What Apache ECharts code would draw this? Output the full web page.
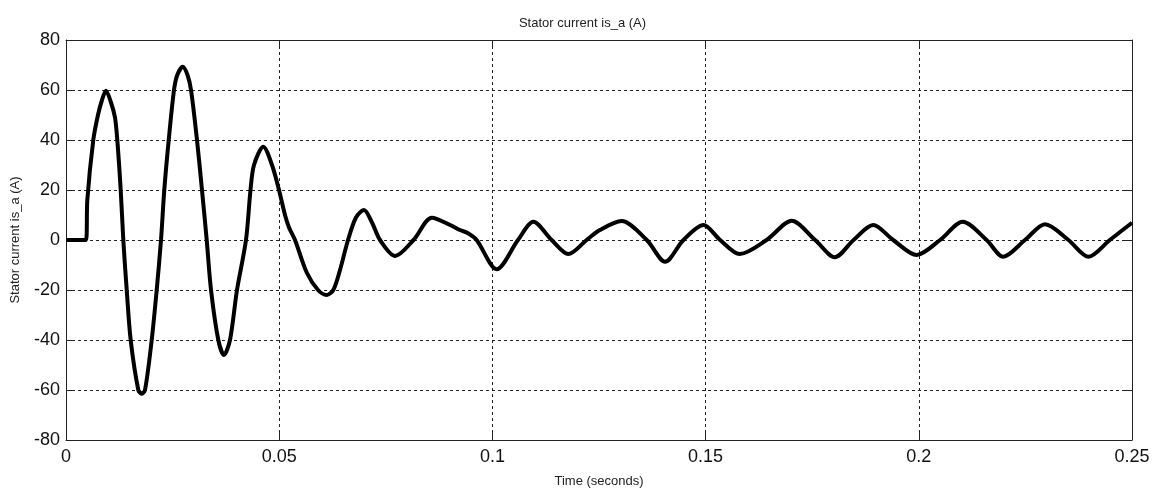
<!DOCTYPE html>
<html>
<head>
<meta charset="utf-8">
<script src="https://cdn.jsdelivr.net/npm/echarts@6/dist/echarts.min.js"></script>
<style>
html,body{margin:0;padding:0;background:#fff;}
#chart{width:1165px;height:493px;}
</style>
</head>
<body>
<div id="chart"></div>
<script>
var titleText = 'Stator current is_a (A)';
var xName = 'Time (seconds)';
var yName = 'Stator current is_a (A)';
var xTicks = [0, 0.05, 0.1, 0.15, 0.2, 0.25];
var yTicks = [-80, -60, -40, -20, 0, 20, 40, 60, 80];
var times = [0, 0.00469, 0.00500, 0.00640, 0.00750, 0.00844, 0.00938, 0.01055, 0.01149, 0.01203, 0.01283, 0.01344, 0.01424, 0.01517, 0.01696, 0.01775, 0.01853, 0.02010, 0.02127, 0.02228, 0.02305, 0.02409, 0.02533, 0.02610, 0.02737, 0.02850, 0.02932, 0.03072, 0.03189, 0.03300, 0.03401, 0.03572, 0.03705, 0.03846, 0.04010, 0.04221, 0.04327, 0.04409, 0.04627, 0.04831, 0.04995, 0.05136, 0.05230, 0.05371, 0.05645, 0.05910, 0.06114, 0.06269, 0.06426, 0.06614, 0.06801, 0.06989, 0.07176, 0.07364, 0.0772, 0.0815, 0.0858, 0.0901, 0.0924, 0.0943, 0.0963, 0.1010, 0.1060, 0.1096, 0.1139, 0.1178, 0.1221, 0.1252, 0.1303, 0.1362, 0.1405, 0.1448, 0.1495, 0.1534, 0.1580, 0.1643, 0.1702, 0.1757, 0.1803, 0.1847, 0.1893, 0.1940, 0.1995, 0.2050, 0.2103, 0.2159, 0.2198, 0.2249, 0.2296, 0.2351, 0.2398, 0.2448, 0.2500];
var current = [0, 0, 16, 40, 50, 56, 59.7, 55, 49, 40, 20, 0, -20, -40, -60, -61.5, -60, -40, -20, 0, 20, 40, 60, 66, 69.3, 66, 60, 40, 20, 0, -20, -40, -46, -40, -20, 0, 20, 30, 37.3, 30, 20, 10, 5, 0, -13, -20, -22, -20, -12, 0, 9, 12, 7, 0, -6.4, 0, 8.9, 6, 4, 2.7, 0, -11.7, 0, 7.3, 0, -5.6, 0, 4, 7.6, 0, -8.7, 0, 6, 0, -5.6, 0, 7.7, 0, -6.9, 0, 6, 0, -6, 0, 7.3, 0, -6.7, 0, 6.3, 0, -6.7, 0, 6.9];

var data = times.map(function (t, k) { return [t, current[k]]; });
var FONT = '"Liberation Sans", Arial, sans-serif';
var xMin = xTicks[0], xMax = xTicks[xTicks.length - 1];
var yMin = yTicks[0], yMax = yTicks[yTicks.length - 1];
var xInt = xTicks[1] - xTicks[0], yInt = yTicks[1] - yTicks[0];

var chart = echarts.init(document.getElementById('chart'));
var gridLine = { show: true, lineStyle: { color: '#222', width: 1, type: [3, 3] } };
var tick = { show: true, inside: true, length: 9, lineStyle: { color: '#222' } };
var line = { show: true, onZero: false, lineStyle: { color: '#222', width: 1 } };

chart.setOption({
  animation: false,
  backgroundColor: '#fff',
  title: {
    text: titleText, left: 'center', top: 12,
    textStyle: { fontFamily: FONT, fontSize: 13, fontWeight: 'normal', color: '#222' }
  },
  grid: { left: 66, right: 33, top: 40, bottom: 52, containLabel: false },
  xAxis: [{
    type: 'value', min: xMin, max: xMax, interval: xInt, position: 'bottom',
    name: xName, nameLocation: 'middle', nameGap: 35,
    nameTextStyle: { fontFamily: FONT, fontSize: 13, color: '#222' },
    axisLine: line, axisTick: tick, splitLine: gridLine,
    axisLabel: { fontFamily: FONT, fontSize: 18, color: '#111', margin: 8,
      formatter: function (v) { return String(+v.toFixed(2)); } }
  }, {
    type: 'value', min: xMin, max: xMax, interval: xInt, position: 'top',
    axisLine: line, axisTick: tick, splitLine: { show: false }, axisLabel: { show: false }
  }],
  yAxis: [{
    type: 'value', min: yMin, max: yMax, interval: yInt, position: 'left',
    name: yName, nameLocation: 'middle', nameGap: 44,
    nameTextStyle: { fontFamily: FONT, fontSize: 13, color: '#222' },
    axisLine: line, axisTick: tick, splitLine: gridLine,
    axisLabel: { fontFamily: FONT, fontSize: 18, color: '#111', margin: 6 }
  }, {
    type: 'value', min: yMin, max: yMax, interval: yInt, position: 'right',
    axisLine: line, axisTick: tick, splitLine: { show: false }, axisLabel: { show: false }
  }],
  series: [{
    type: 'line', data: data, xAxisIndex: 0, yAxisIndex: 0,
    showSymbol: false, smooth: 0.3,
    lineStyle: { color: '#000', width: 4 }
  }]
});
</script>
</body>
</html>
